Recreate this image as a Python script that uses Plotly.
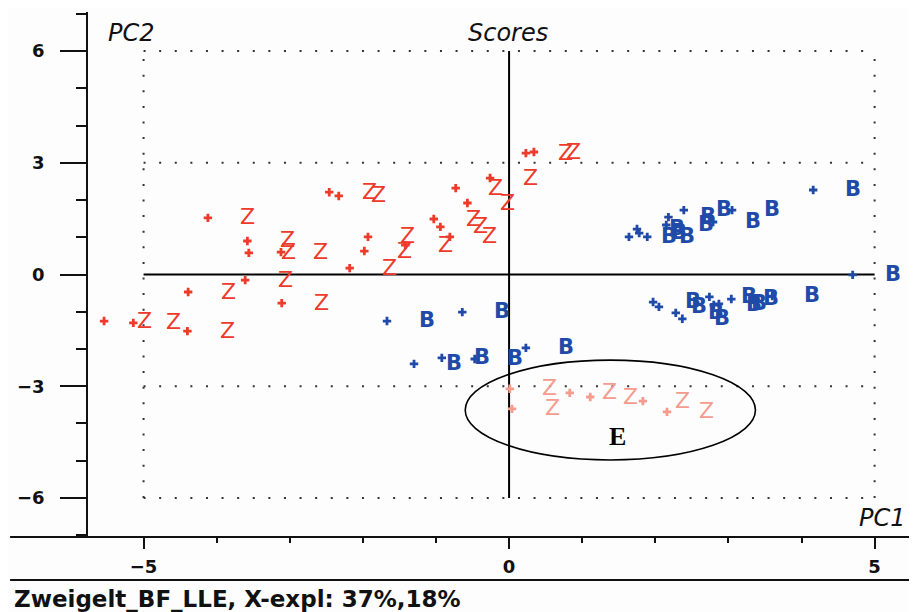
import plotly.graph_objects as go

# --- data (PC1, PC2 scores) ---
z_pc1 = [-5.54, -5.14, -4.40, -4.39, -4.12, -3.58, -3.56, -3.61, -3.12, -3.11,
         -2.46, -2.33, -1.93, -1.98, -2.18, -1.42, -1.03, -0.94, -0.81, -0.73,
         -0.57, -0.26, 0.23, 0.34]
z_pc2 = [-1.25, -1.30, -1.52, -0.47, 1.52, 0.90, 0.58, -0.15, 0.60, -0.77,
         2.21, 2.11, 1.01, 0.63, 0.17, 0.79, 1.49, 1.28, 1.01, 2.32,
         1.92, 2.59, 3.26, 3.29]

e_pc1 = [0.01, 0.04, 0.83, 1.11, 1.83, 2.16]
e_pc2 = [-3.07, -3.61, -3.18, -3.29, -3.40, -3.69]

b_pc1 = [-1.67, -0.64, -1.30, -0.92, -0.47, 0.23,
         1.64, 1.75, 1.78, 1.89, 2.18, 2.15, 2.39, 2.79, 3.05, 4.16, 4.70,
         1.97, 2.05, 2.28, 2.37, 2.74, 2.87, 3.04, 2.80, 3.60]
b_pc2 = [-1.25, -1.01, -2.40, -2.24, -2.27, -1.97,
         1.01, 1.22, 1.11, 1.01, 1.54, 1.33, 1.73, 1.41, 1.73, 2.27, -0.01,
         -0.74, -0.87, -1.03, -1.19, -0.60, -0.79, -0.66, -0.82, -0.58]

groups = [
    ("Z", z_pc1, z_pc2, "#EE3A2A"),
    ("B", b_pc1, b_pc2, "#1F4AA8"),
    ("Z", e_pc1, e_pc2, "#F59C8E"),
]

x_range = [-5.76, 5.58]
y_range = [-7.05, 7.05]
grid_x = [-5, 5]
grid_y = [-6, -3, 3, 6]

fig = go.Figure()

annotations = []
for label, xs, ys, col in groups:
    fig.add_trace(go.Scatter(
        x=xs, y=ys, mode="markers",
        marker=dict(symbol="cross", size=7, color=col, line=dict(width=0)),
        showlegend=False, hoverinfo="skip"))
    for xv, yv in zip(xs, ys):
        annotations.append(dict(
            x=xv, y=yv, xref="x", yref="y", text=label, showarrow=False,
            xshift=40, yshift=1, xanchor="center", yanchor="middle",
            font=dict(family="DejaVu Sans", size=22 if label == "Z" else 21, color=col,
                      weight="bold" if label == "B" else "normal")))

shapes = []
dot = dict(color="#333333", width=2, dash="2px,13.6px")
for gx in grid_x:
    shapes.append(dict(type="line", xref="x", yref="y", x0=gx, x1=gx, y0=-6, y1=6,
                       line=dot, layer="below"))
for gy in grid_y:
    shapes.append(dict(type="line", xref="x", yref="y", x0=-5, x1=5, y0=gy, y1=gy,
                       line=dot, layer="below"))
# zero lines
shapes.append(dict(type="line", xref="x", yref="y", x0=0, x1=0, y0=-6, y1=6,
                   line=dict(color="black", width=2), layer="below"))
shapes.append(dict(type="line", xref="x", yref="y", x0=-5, x1=5, y0=0, y1=0,
                   line=dict(color="black", width=2), layer="below"))
# frame lines
shapes.append(dict(type="line", xref="paper", yref="paper", x0=-0.094, x1=1.01, y0=0, y1=0,
                   line=dict(color="#111111", width=2)))
shapes.append(dict(type="line", xref="paper", yref="paper", x0=-0.094, x1=1.01, y0=-0.082, y1=-0.082,
                   line=dict(color="#111111", width=2)))
# ellipse
shapes.append(dict(type="circle", xref="x", yref="y", x0=-0.60, x1=3.37, y0=-4.98, y1=-2.30,
                   line=dict(color="black", width=1.6)))

ital = dict(family="DejaVu Sans", size=24, color="#111111", style="italic")
annotations += [
    dict(text="PC2", x=0.052, y=0.96, xref="paper", yref="paper", showarrow=False, font=ital,
         xanchor="center", yanchor="middle"),
    dict(text="Scores", x=0.5066, y=0.96, xref="paper", yref="paper", showarrow=False, font=ital,
         xanchor="center", yanchor="middle"),
    dict(text="PC1", x=0.958, y=0.036, xref="paper", yref="paper", showarrow=False, font=ital,
         xanchor="center", yanchor="middle"),
    dict(text="E", x=1.48, y=-4.36, xref="x", yref="y", showarrow=False,
         xanchor="center", yanchor="middle",
         font=dict(family="Liberation Serif", size=26, color="black", weight="bold")),
    dict(text="Zweigelt_BF_LLE, X-expl: 37%,18%", x=-0.0917, y=-0.118, xref="paper", yref="paper",
         xanchor="left", yanchor="middle", showarrow=False,
         font=dict(family="DejaVu Sans", size=23, color="#111111", weight="bold")),
]

tickfont = dict(family="DejaVu Sans", size=18, color="#111111", weight="bold")

# figure is placed 8px from the page corner, so it is sized to fill the 917x612 window
fig.update_layout(
    width=909, height=604,
    margin=dict(l=80, r=0, t=4, b=75, autoexpand=False),
    paper_bgcolor="#FDFDFD", plot_bgcolor="#FDFDFD",
    shapes=shapes, annotations=annotations,
    xaxis=dict(range=x_range, showgrid=False, zeroline=False, showline=False,
               tickmode="linear", tick0=0, dtick=5, ticks="outside", ticklen=11,
               tickwidth=1.5, tickcolor="#111111", tickfont=tickfont, ticklabelstandoff=2,
               minor=dict(dtick=1, tick0=0, ticks="outside", ticklen=5, tickwidth=1.5,
                          tickcolor="#111111")),
    yaxis=dict(range=y_range, showgrid=False, zeroline=False, showline=True,
               linecolor="#111111", linewidth=1.5,
               tickmode="linear", tick0=0, dtick=3, ticks="outside", ticklen=26,
               tickwidth=1.5, tickcolor="#111111", tickfont=tickfont, ticklabelstandoff=12,
               minor=dict(dtick=1, tick0=0, ticks="outside", ticklen=10, tickwidth=1.5,
                          tickcolor="#111111")),
)

fig.write_html("out.html")
